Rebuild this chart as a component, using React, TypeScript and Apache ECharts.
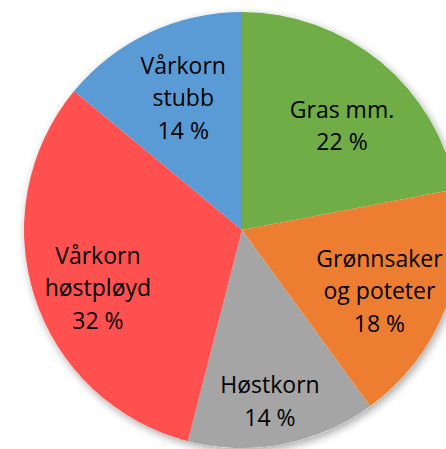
import React, { useEffect, useRef } from "react";
import * as echarts from "echarts";

const categories = ["Gras mm.", "Grønnsaker og poteter", "Høstkorn", "Vårkorn høstpløyd", "Vårkorn stubb"];
const labelNames = ["Gras mm.", "Grønnsaker\nog poteter", "Høstkorn", "Vårkorn\nhøstpløyd", "Vårkorn\nstubb"];
const values = [22, 18, 14, 32, 14];
const colors = ["#70AD47", "#ED7D31", "#A5A5A5", "#FF5050", "#5B9BD5"];
// label placement: distance from centre (px) and angular shift (deg) from slice mid-angle
const labelRadius = [145, 150, 173, 155, 145];
const labelAngleShift = [4, 2, 1.5, -3.6, 1.3];

const CX = 242;
const CY = 230;
const R = 218;

export default function App() {
  const ref = useRef<HTMLDivElement>(null);
  useEffect(() => {
    if (!ref.current) return;
    const chart = echarts.init(ref.current, null, { renderer: "svg" });
    const total = values.reduce((a, b) => a + b, 0);
    chart.setOption({
      animation: false,
      backgroundColor: "#ffffff",
      series: [
        {
          type: "pie",
          silent: true,
          center: [CX, CY],
          radius: [0, R],
          label: { show: false },
          labelLine: { show: false },
          itemStyle: {
            color: "#ffffff",
            shadowBlur: 8,
            shadowOffsetX: 2,
            shadowOffsetY: 3,
            shadowColor: "rgba(0,0,0,0.35)",
          },
          data: [{ value: 1, name: "bg" }],
          z: 1,
        },
        {
          type: "pie",
          center: [CX, CY],
          radius: [0, R],
          startAngle: 90,
          clockwise: true,
          z: 2,
          data: categories.map((c, i) => ({
            name: c,
            value: values[i],
            itemStyle: { color: colors[i] },
          })),
          itemStyle: { borderWidth: 0 },
          label: {
            show: true,
            position: "inside",
            color: "#000000",
            fontFamily: "Open Sans",
            fontSize: 23,
            lineHeight: 32.5,
            align: "center",
            formatter: (p: any) => `${labelNames[p.dataIndex]}\n${Math.round(p.percent)} %`,
          },
          labelLine: { show: false },
          labelLayout: (p: any) => {
            const i = p.dataIndex;
            let cum = 0;
            for (let k = 0; k < i; k++) cum += values[k];
            const mid = ((cum + values[i] / 2) / total) * Math.PI * 2 + (labelAngleShift[i] * Math.PI) / 180;
            const rr = labelRadius[i];
            return {
              x: CX + rr * Math.sin(mid),
              y: CY - rr * Math.cos(mid),
              align: "center",
              verticalAlign: "middle",
            };
          },
        },
      ],
    });
    return () => chart.dispose();
  }, []);
  return (
    <div
      ref={ref}
      style={{ position: "fixed", left: 0, top: 0, width: 446, height: 449 }}
    />
  );
}
